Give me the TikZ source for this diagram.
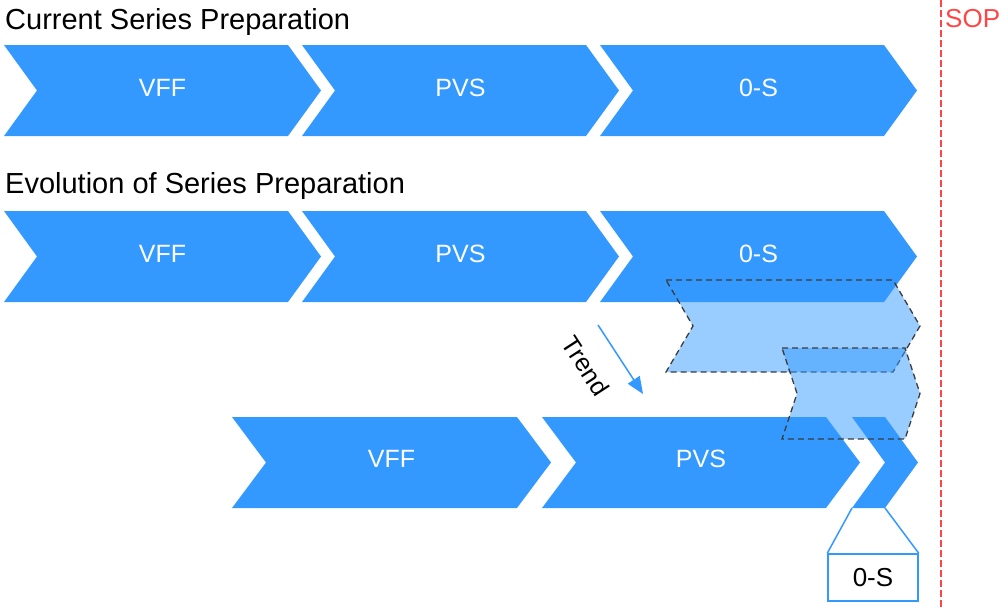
\documentclass[tikz,border=0pt]{standalone}
\usepackage{fontspec}
\setmainfont{Liberation Sans}
\usetikzlibrary{arrows.meta}

\definecolor{stageblue}{HTML}{3399FF}
\definecolor{sopred}{HTML}{FF4646}
\definecolor{shiftline}{HTML}{3C3C3C}

% \stagechevron[style]{left}{top}{right}{depth}{bottom}
\newcommand{\stagechevron}[6][]{%
  \path[#1] (#2,#3) -- (#4,#3) -- ({#4+#5},{(#3+#6)/2}) -- (#4,#6)
    -- (#2,#6) -- ({#2+#5},{(#3+#6)/2}) -- cycle;}

\tikzset{
  stage/.style={fill=stageblue},
  shifted/.style={fill=stageblue, fill opacity=0.5, draw=shiftline,
    line width=1.3pt, dash pattern=on 6pt off 4pt, line join=miter},
  stagelabel/.style={text=white, inner sep=0pt, font=\fontsize{25}{30}\selectfont},
  heading/.style={anchor=base west, inner sep=0pt, font=\fontsize{29}{34}\selectfont},
  callout/.style={draw=stageblue, line width=1.5pt},
}

\begin{document}
\begin{tikzpicture}[x=1pt, y=-1pt]
\useasboundingbox (0,0) rectangle (1001,608);

% headings
\node[heading] (cur) at (5,29) {Current Series Preparation};
\node[heading] (evo) at (5,193) {Evolution of Series Preparation};

% current preparation chain
\stagechevron[stage]{4}{45}{288}{33}{136}
\stagechevron[stage]{302}{45}{586}{33}{136}
\stagechevron[stage]{600}{45}{884}{33}{136}
\node[stagelabel] (c-vff) at (162.5,88) {VFF};
\node[stagelabel] (c-pvs) at (460.5,88) {PVS};
\node[stagelabel] (c-0s)  at (758.5,88) {0-S};

% evolved preparation chain
\stagechevron[stage]{4}{211}{288}{33}{302}
\stagechevron[stage]{302}{211}{586}{33}{302}
\stagechevron[stage]{600}{211}{884}{33}{302}
\node[stagelabel] (e-vff) at (162.5,254) {VFF};
\node[stagelabel] (e-pvs) at (460.5,254) {PVS};
\node[stagelabel] (e-0s)  at (758.5,254) {0-S};

% compressed chain
\stagechevron[stage]{232}{417}{517}{34}{508}
\stagechevron[stage]{542}{417}{826}{34}{508}
\stagechevron[stage]{852}{417}{885}{33}{508}
\node[stagelabel] (t-vff) at (391.5,459) {VFF};
\node[stagelabel] (t-pvs) at (701,459) {PVS};

% intermediate shifted phases
\stagechevron[shifted]{666}{280}{893}{27}{372}
\stagechevron[shifted]{782}{348}{905}{15}{439}

% trend arrow
\coordinate (trend-a) at (598,325);
\coordinate (trend-b) at (643,394);
\draw[stageblue, line width=1.5pt, -{Triangle[length=17pt,width=14pt]}] (trend-a) -- (trend-b);
\node[rotate=-57, inner sep=0pt, font=\fontsize{25}{30}\selectfont] (trend) at (586,366) {Trend};

% callout for the short 0-S phase
\coordinate (os-bl) at (852,508);
\coordinate (os-br) at (885,508);
\node[callout, fill=white, minimum width=90pt, minimum height=47pt, inner sep=0pt,
      font=\fontsize{26}{30}\selectfont] (os-box) at (873,577.5) {0-S};
\draw[callout] (os-bl) -- (os-box.north west);
\draw[callout] (os-br) -- (os-box.north east);

% start of production
\coordinate (sop-top) at (941,0);
\coordinate (sop-bot) at (941,608);
\draw[sopred, line width=1.8pt, dash pattern=on 7pt off 3pt] (sop-top) -- (sop-bot);
\node[anchor=base west, inner sep=0pt, text=sopred, font=\fontsize{26}{30}\selectfont] (sop) at (945,27) {SOP};
\end{tikzpicture}
\end{document}
